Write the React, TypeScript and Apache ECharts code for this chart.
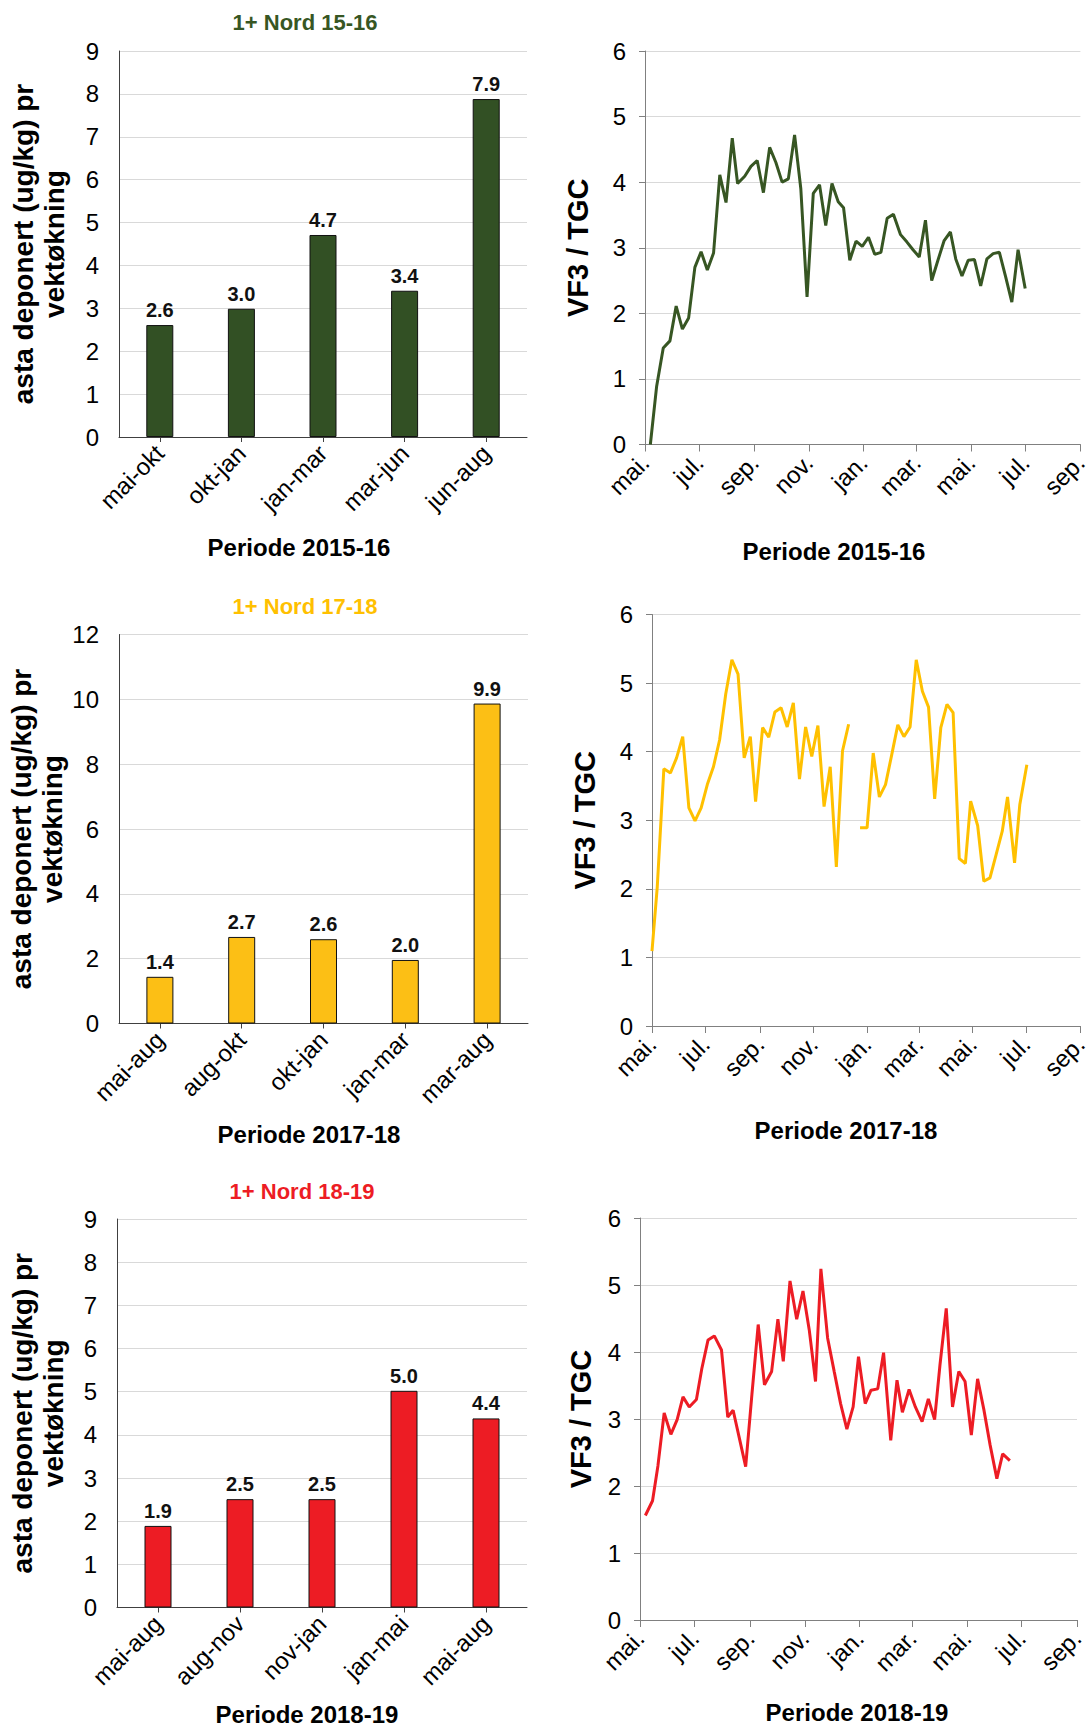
import React, { useEffect, useRef } from "react";
import * as echarts from "echarts";

// ---------- Bar charts data ----------
const barCats1516 = ["mai-okt", "okt-jan", "jan-mar", "mar-jun", "jun-aug"];
const barVals1516 = [2.61, 2.99, 4.71, 3.41, 7.88];
const barCats1718 = ["mai-aug", "aug-okt", "okt-jan", "jan-mar", "mar-aug"];
const barVals1718 = [1.44, 2.67, 2.6, 1.96, 9.87];
const barCats1819 = ["mai-aug", "aug-nov", "nov-jan", "jan-mai", "mai-aug"];
const barVals1819 = [1.89, 2.51, 2.51, 5.02, 4.38];

const titles = ["1+ Nord 15-16", "1+ Nord 17-18", "1+ Nord 18-19"];
const periodNames = ["Periode 2015-16", "Periode 2017-18", "Periode 2018-19"];
const startYears = [2015, 2017, 2018];

// ---------- Line charts data (days since 1 May of start year, VF3/TGC) ----------
const lineDays1516 = [6, 13, 20.5, 28, 35, 42, 49, 56, 63, 70, 77, 84, 91, 98, 104, 112, 119, 126, 133, 140, 147, 154, 161, 168, 175, 182, 189, 196, 203, 210, 217, 223, 230, 237, 244, 251, 258, 265, 272, 279, 287, 294, 301, 308, 315, 322, 329, 336, 343, 349, 356, 363, 370, 377, 384, 391, 398, 405, 412, 419, 427];
const lineVals1516 = [0.0, 0.88, 1.47, 1.58, 2.11, 1.76, 1.93, 2.7, 2.94, 2.66, 2.92, 4.11, 3.69, 4.67, 3.98, 4.09, 4.24, 4.33, 3.84, 4.53, 4.3, 4.0, 4.05, 4.72, 3.9, 2.25, 3.83, 3.96, 3.34, 3.98, 3.7, 3.61, 2.81, 3.1, 3.02, 3.16, 2.9, 2.93, 3.45, 3.51, 3.2, 3.09, 2.97, 2.86, 3.42, 2.5, 2.81, 3.11, 3.24, 2.83, 2.57, 2.81, 2.82, 2.42, 2.83, 2.91, 2.93, 2.56, 2.17, 2.97, 2.38];

const lineDays1718 = [0, 6, 13.5, 21, 28, 35, 42, 49, 56, 63, 70, 77, 84, 91, 98, 105, 112, 118, 126, 133, 140, 147, 154, 161, 168, 175, 182, 189, 196, 203, 210, 217, 224, 230, 237, 245, 252, 259, 266, 273, 280, 287, 294, 301, 308, 315, 322, 329, 336, 343, 350, 357, 363, 371, 378, 385, 392, 399, 405, 413, 419, 427];
const lineVals1718 = [1.09, 2.03, 3.75, 3.69, 3.91, 4.22, 3.18, 2.99, 3.18, 3.52, 3.78, 4.17, 4.84, 5.34, 5.13, 3.91, 4.22, 3.27, 4.35, 4.21, 4.58, 4.64, 4.36, 4.71, 3.6, 4.36, 3.93, 4.38, 3.2, 3.78, 2.32, 4.01, 4.4, null, 2.89, 2.89, 3.98, 3.34, 3.52, 3.95, 4.39, 4.22, 4.36, 5.34, 4.88, 4.65, 3.31, 4.35, 4.69, 4.57, 2.44, 2.37, 3.28, 2.92, 2.11, 2.16, 2.5, 2.84, 3.34, 2.38, 3.23, 3.81];

const lineDays1819 = [6, 14, 20, 27, 34.5, 41.5, 48, 55, 63, 69, 76, 83, 91, 98, 104, 111, 118, 125, 132, 139, 147, 154, 160, 167.5, 175, 182, 189, 196, 202, 209.5, 217, 224, 231, 238, 244, 251.5, 258, 265.5, 272, 280, 287, 293, 300.5, 307.5, 315, 322, 329, 335, 342, 349, 356, 363, 370, 377, 384, 391, 398.5, 405, 413];
const lineVals1819 = [1.56, 1.78, 2.3, 3.09, 2.77, 2.99, 3.33, 3.18, 3.29, 3.75, 4.18, 4.24, 4.03, 3.03, 3.13, 2.71, 2.29, 3.37, 4.41, 3.51, 3.71, 4.49, 3.86, 5.06, 4.49, 4.91, 4.33, 3.56, 5.24, 4.21, 3.7, 3.23, 2.85, 3.18, 3.93, 3.23, 3.43, 3.45, 3.99, 2.68, 3.58, 3.1, 3.44, 3.18, 2.96, 3.3, 2.99, 3.81, 4.65, 3.18, 3.71, 3.56, 2.76, 3.6, 3.14, 2.61, 2.11, 2.48, 2.38];

const monthNames = ["jan.", "feb.", "mar.", "apr.", "mai.", "jun.", "jul.", "aug.", "sep.", "okt.", "nov.", "des."];

const FONT = '"Liberation Sans", Arial, Helvetica, sans-serif';
const colors = ["#325024", "#FCBF15", "#ED1C24"];
const lineColors = ["#375623", "#FFC000", "#ED1C24"];
const titleColors = ["#375623", "#FFC000", "#ED1C24"];

function monthTicks(year: number) {
  const t0 = Date.UTC(year, 4, 1);
  const out: { day: number; label: string }[] = [];
  for (let m = 0; m <= 16; m += 2) {
    const d = Date.UTC(year, 4 + m, 1);
    out.push({ day: Math.round((d - t0) / 86400000), label: monthNames[(4 + m) % 12] });
  }
  return out;
}

export default function App() {
  const ref = useRef<HTMLDivElement>(null);

  useEffect(() => {
    document.body.style.margin = "0";
    if (!ref.current) return;
    const chart = echarts.init(ref.current, undefined, { renderer: "svg" });

    const barGrids = [
      { left: 119, top: 51, width: 408, height: 386 },
      { left: 119, top: 634.5, width: 409, height: 389 },
      { left: 117, top: 1219, width: 410, height: 388.5 },
    ];
    const lineGrids = [
      { left: 645, top: 51, width: 441, height: 393.5 },
      { left: 652, top: 614.5, width: 429, height: 411.5 },
      { left: 640, top: 1218, width: 437, height: 402 },
    ];
    const barCats = [barCats1516, barCats1718, barCats1819];
    const barVals = [barVals1516, barVals1718, barVals1819];
    const barMax = [9, 12, 9];
    const barInt = [1, 2, 1];
    const barNameGap = [49, 49, 48];
    const lineDays = [lineDays1516, lineDays1718, lineDays1819];
    const lineVals = [lineVals1516, lineVals1718, lineVals1819];
    const lineNameGap = [53, 53, 45];

    const grid: any[] = [];
    const xAxis: any[] = [];
    const yAxis: any[] = [];
    const series: any[] = [];

    const labelStyle = { color: "#000", fontSize: 24, fontFamily: FONT };

    for (let i = 0; i < 3; i++) {
      // bar chart
      const gi = grid.length;
      grid.push({ ...barGrids[i], containLabel: false });
      xAxis.push({
        type: "category",
        gridIndex: gi,
        data: barCats[i],
        axisLine: { lineStyle: { color: "#404040", width: 1 } },
        axisTick: { show: true, alignWithLabel: true, length: 5, lineStyle: { color: "#404040" } },
        axisLabel: { ...labelStyle, rotate: 45, margin: 12, interval: 0 },
      });
      yAxis.push({
        type: "value",
        gridIndex: gi,
        min: 0,
        max: barMax[i],
        interval: barInt[i],
        name: "asta deponert (ug/kg) pr\nvektøkning",
        nameLocation: "middle",
        nameGap: barNameGap[i],
        nameTextStyle: { color: "#000", fontSize: 28, fontWeight: "bold", fontFamily: FONT, lineHeight: 31 },
        axisLine: { show: true, lineStyle: { color: "#404040", width: 1 } },
        axisTick: { show: false },
        axisLabel: { ...labelStyle, margin: 20 },
        splitLine: { show: true, lineStyle: { color: "#d9d9d9", width: 1 } },
      });
      series.push({
        type: "bar",
        xAxisIndex: gi,
        yAxisIndex: gi,
        data: barVals[i],
        barWidth: 27,
        itemStyle: { color: colors[i], borderColor: "#111", borderWidth: 1 },
        label: {
          show: true,
          position: "top",
          distance: 5,
          color: "#111",
          fontSize: 20,
          fontWeight: "bold",
          fontFamily: FONT,
          formatter: (p: any) => Number(p.value).toFixed(1),
        },
      });

      // line chart
      const li = grid.length;
      grid.push({ ...lineGrids[i], containLabel: false });
      const ticks = monthTicks(startYears[i]);
      const tickDays = ticks.map((t) => t.day);
      xAxis.push({
        type: "value",
        gridIndex: li,
        min: 0,
        max: tickDays[tickDays.length - 1],
        axisLine: { show: true, onZero: false, lineStyle: { color: "#808080", width: 1 } },
        axisTick: { show: true, length: 7, customValues: tickDays, lineStyle: { color: "#808080" } },
        axisLabel: {
          ...labelStyle,
          rotate: 45,
          margin: 14,
          customValues: tickDays,
          formatter: (v: number) => {
            const t = ticks.find((k) => Math.abs(k.day - v) < 0.5);
            return t ? t.label : "";
          },
        },
        splitLine: { show: false },
      });
      yAxis.push({
        type: "value",
        gridIndex: li,
        min: 0,
        max: 6,
        interval: 1,
        name: "VF3 / TGC",
        nameLocation: "middle",
        nameGap: lineNameGap[i],
        nameTextStyle: { color: "#000", fontSize: 29, fontWeight: "bold", fontFamily: FONT, lineHeight: 29 },
        axisLine: { show: true, lineStyle: { color: "#808080", width: 1 } },
        axisTick: { show: true, length: 6, lineStyle: { color: "#808080" } },
        axisLabel: { ...labelStyle, margin: 19 },
        splitLine: { show: true, lineStyle: { color: "#d9d9d9", width: 1 } },
      });
      series.push({
        type: "line",
        xAxisIndex: li,
        yAxisIndex: li,
        showSymbol: false,
        connectNulls: false,
        lineStyle: { color: lineColors[i], width: 3 },
        itemStyle: { color: lineColors[i] },
        data: lineDays[i].map((d, k) => [d, lineVals[i][k] === null ? "-" : lineVals[i][k]]),
      });
    }

    const textEl = (text: string, x: number, y: number, size: number, fill: string) => ({
      type: "text",
      x,
      y,
      style: {
        text,
        fill,
        fontSize: size,
        fontWeight: "bold",
        fontFamily: FONT,
        align: "center",
        verticalAlign: "middle",
      },
    });

    const graphic = [
      textEl(titles[0], 305, 22, 22, titleColors[0]),
      textEl(titles[1], 305, 606, 22, titleColors[1]),
      textEl(titles[2], 302, 1191, 22, titleColors[2]),
      textEl(periodNames[0], 299, 547, 24, "#000"),
      textEl(periodNames[0], 834, 551, 24, "#000"),
      textEl(periodNames[1], 309, 1134, 24, "#000"),
      textEl(periodNames[1], 846, 1130, 24, "#000"),
      textEl(periodNames[2], 307, 1714, 24, "#000"),
      textEl(periodNames[2], 857, 1712, 24, "#000"),
    ];

    chart.setOption({
      animation: false,
      backgroundColor: "#fff",
      textStyle: { fontFamily: FONT },
      grid,
      xAxis,
      yAxis,
      series,
      graphic,
    });

    return () => chart.dispose();
  }, []);

  return <div ref={ref} style={{ width: 1091, height: 1729 }} />;
}
